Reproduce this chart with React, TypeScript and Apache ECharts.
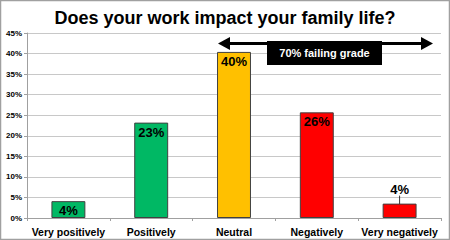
import React, { useEffect, useRef } from "react";
import * as echarts from "echarts";

const categories = ["Very positively", "Positively", "Neutral", "Negatively", "Very negatively"];
const values = [4.1, 23.2, 40.4, 25.7, 3.5];
const valueLabels = ["4%", "23%", "40%", "26%", "4%"];
const barColors = ["#00B864", "#00B864", "#FFC000", "#FF0000", "#FF0000"];
const yTicks = [0, 5, 10, 15, 20, 25, 30, 35, 40, 45];
const titleText = "Does your work impact your family life?";
const arrowText = "70% failing grade";

export default function App() {
  const ref = useRef<HTMLDivElement>(null);
  useEffect(() => {
    if (!ref.current) return;
    const chart = echarts.init(ref.current, null, { renderer: "svg" });
    const font = "Liberation Sans, Arial, sans-serif";
    chart.setOption({
      animation: false,
      backgroundColor: "#ffffff",
      title: {
        text: titleText,
        left: "center",
        top: 4,
        textStyle: { fontFamily: font, fontWeight: "bold", fontSize: 18, color: "#000" },
      },
      grid: { left: 27, right: 9, top: 33, bottom: 22 },
      xAxis: {
        type: "category",
        data: categories,
        axisLine: { lineStyle: { color: "#a0a0a0", width: 1 } },
        axisTick: { show: true, length: 3, alignWithLabel: false, lineStyle: { color: "#a0a0a0" } },
        axisLabel: { fontFamily: font, fontWeight: "bold", fontSize: 10.5, color: "#000", margin: 8, interval: 0 },
      },
      yAxis: {
        type: "value",
        min: yTicks[0],
        max: yTicks[yTicks.length - 1],
        interval: 5,
        axisLine: { show: true, lineStyle: { color: "#a0a0a0" } },
        axisTick: { show: true, length: 3, lineStyle: { color: "#a0a0a0" } },
        splitLine: { lineStyle: { color: "#c8c8c8", width: 1 } },
        axisLabel: {
          fontFamily: font,
          fontWeight: "bold",
          fontSize: 8,
          color: "#000",
          margin: 5,
          formatter: (v: number) => v + "%",
        },
      },
      series: [
        {
          type: "bar",
          barWidth: "41%",
          data: values.map((v, i) => ({
            value: v,
            itemStyle: { color: barColors[i], borderColor: "#404040", borderWidth: 1 },
            label: {
              show: true,
              position: i === 4 ? "top" : "insideTop",
              distance: i === 4 ? 7 : 3,
              formatter: valueLabels[i],
              fontFamily: font,
              fontWeight: "bold",
              fontSize: 13,
              color: "#000",
            },
            labelLine: i === 4 ? { show: true, lineStyle: { color: "#000", width: 0.8 } } : { show: false },
          })),
          labelLayout: (p: any) => (p.dataIndex === 4 ? { dy: -1 } : {}),
        },
      ],
      graphic: [
        {
          type: "rect",
          shape: { x: 0.5, y: 0.5, width: 449, height: 239 },
          style: { fill: "none", stroke: "#a0a0a0", lineWidth: 1.5 },
          z: 100,
        },
        {
          type: "line",
          shape: { x1: 228, y1: 43.5, x2: 422, y2: 43.5 },
          style: { stroke: "#000", lineWidth: 3 },
          z: 100,
        },
        {
          type: "polygon",
          shape: { points: [[218, 43.5], [230, 37], [230, 50]] },
          style: { fill: "#000" },
          z: 100,
        },
        {
          type: "polygon",
          shape: { points: [[433, 43.5], [421, 37], [421, 50]] },
          style: { fill: "#000" },
          z: 100,
        },
        {
          type: "rect",
          shape: { x: 267, y: 41, width: 115, height: 24 },
          style: { fill: "#000" },
          z: 101,
        },
        {
          type: "text",
          x: 324.5,
          y: 53,
          style: {
            text: arrowText,
            fill: "#fff",
            fontFamily: font,
            fontWeight: "bold",
            fontSize: 11,
            align: "center",
            verticalAlign: "middle",
          },
          z: 102,
        },
      ],
    });
    return () => chart.dispose();
  }, []);
  return (
    <div style={{ position: "fixed", left: 0, top: 0, width: 450, height: 240 }}>
      <div ref={ref} style={{ width: 450, height: 240 }} />
    </div>
  );
}
